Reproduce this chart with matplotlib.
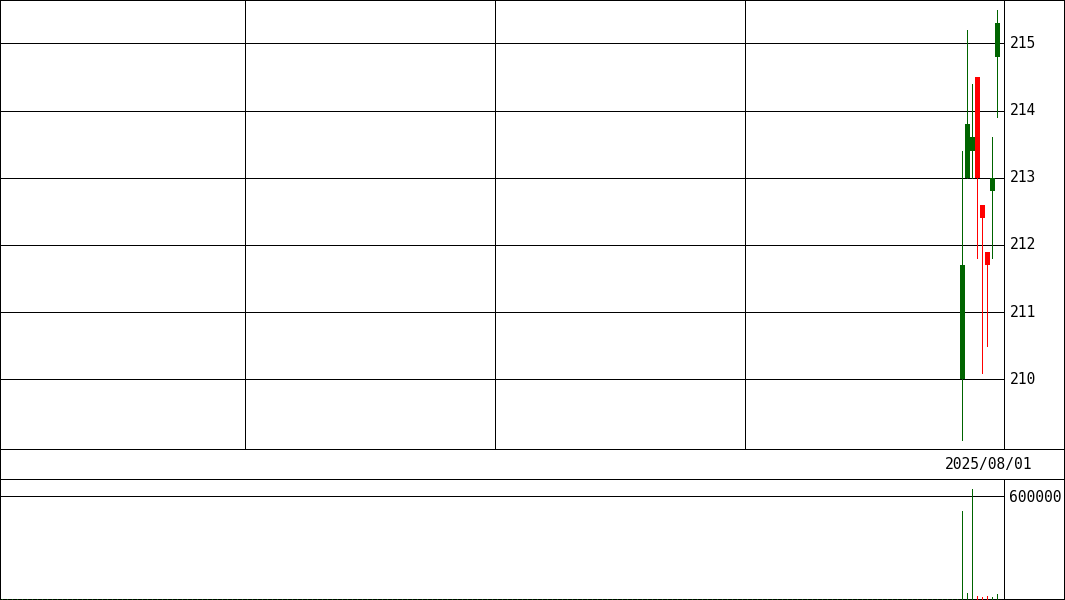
import numpy as np
import matplotlib.pyplot as plt
from matplotlib.lines import Line2D

W, H = 1065, 600

# daily candles (slot index on the 5px grid)
slots = [192, 193, 194, 195, 196, 197, 198, 199]
opens = [210.0, 213.0, 213.4, 214.5, 212.6, 211.9, 212.8, 214.8]
highs = [213.4, 215.2, 214.4, 214.5, 212.6, 211.9, 213.6, 215.5]
lows = [209.1, 213.0, 213.0, 211.8, 210.1, 210.5, 211.8, 213.9]
closes = [211.7, 213.8, 213.6, 213.0, 212.4, 211.7, 213.0, 215.3]
volumes = [516000, 40600, 643500, 23000, 17000, 23000, 17000, 35000]

n_slots = 200
price_ticks = [210, 211, 212, 213, 214, 215]
vol_tick = 600000
date_label = "2025/08/01"
month_lines = [48.5, 98.5, 148.5]

GREEN = "#006400"
RED = "#ff0000"
LW = 72.0 / 100  # one pixel in points
NUDGE = 0.1 / 5  # keep 1px lines off the pixel edge so they snap cleanly


def frac(x0, y0, x1, y1):
    # pixel box (top-left origin) -> figure fraction rect
    return [x0 / W, 1 - y1 / H, (x1 - x0) / W, (y1 - y0) / H]


def pline(fig, xs, ys):
    # 1px black line through pixel centres, top-left origin, under the marks
    fig.add_artist(Line2D([(x + 0.4) / W for x in xs],
                          [1 - (y + 0.4) / H for y in ys],
                          transform=fig.transFigure, color="black",
                          lw=LW, antialiased=False, zorder=-1))


fig = plt.figure(figsize=(W / 100, H / 100), dpi=100)

# price panel
ax = fig.add_axes(frac(0, 0, 1004, 449))
ax.set_xlim(-0.5, 1004 / 5 - 0.5)
ax.set_ylim(210 - 69.6 / 67.2, 215 + 43.4 / 67.2)
ax.axis("off")
for p in price_ticks:
    ax.axhline(p, color="black", lw=LW, antialiased=False)
for m in month_lines:
    ax.axvline(m - NUDGE, color="black", lw=LW, antialiased=False)

colors = [GREEN if c >= o else RED for o, c in zip(opens, closes)]
wick_x = np.array(slots) - NUDGE
ax.vlines(wick_x, lows, highs, colors=colors, lw=LW, antialiased=False, zorder=3)
body_lo = np.minimum(opens, closes)
body_h = np.abs(np.array(closes) - np.array(opens))
ax.bar(slots, body_h, bottom=body_lo, width=1.0, color=colors,
       linewidth=0, antialiased=False, zorder=4)

for p in price_ticks:
    y = ax.transData.transform((0, p))[1]
    fig.text(1010 / W, y / H, str(p), family="DejaVu Sans Mono",
             fontsize=10.5, va="center", ha="left")

# volume panel
axv = fig.add_axes(frac(0, 480, 1004, 600))
axv.set_xlim(-0.5, 1004 / 5 - 0.5)
px_per = vol_tick / 103.6
axv.set_ylim(0, vol_tick + 16.4 * px_per)
axv.axis("off")
axv.axhline(vol_tick, color="black", lw=LW, antialiased=False)
all_vol = np.zeros(n_slots)
all_col = [GREEN] * n_slots
for s, v, c in zip(slots, volumes, colors):
    all_vol[s] = v
    all_col[s] = c
axv.vlines(np.arange(n_slots) - NUDGE, 0, np.maximum(all_vol, px_per),
           colors=all_col, lw=LW, antialiased=False, zorder=3)
fig.text(1009 / W, 1 - 497 / H, str(vol_tick), family="DejaVu Sans Mono",
         fontsize=10.5, va="center", ha="left")

# frame lines (pixel rows / columns)
pline(fig, [0, W], [0, 0])
pline(fig, [0, 0], [0, H])
pline(fig, [W - 1, W - 1], [0, H])
pline(fig, [0, W], [449, 449])
pline(fig, [0, W], [479, 479])
pline(fig, [0, W], [H - 1, H - 1])
pline(fig, [1004, 1004], [0, 449])
pline(fig, [1004, 1004], [479, H])
fig.text(989 / W, 1 - 464 / H, date_label, family="DejaVu Sans Mono",
         fontsize=10.5, va="center", ha="center")

fig.savefig("out.png", dpi=100)
